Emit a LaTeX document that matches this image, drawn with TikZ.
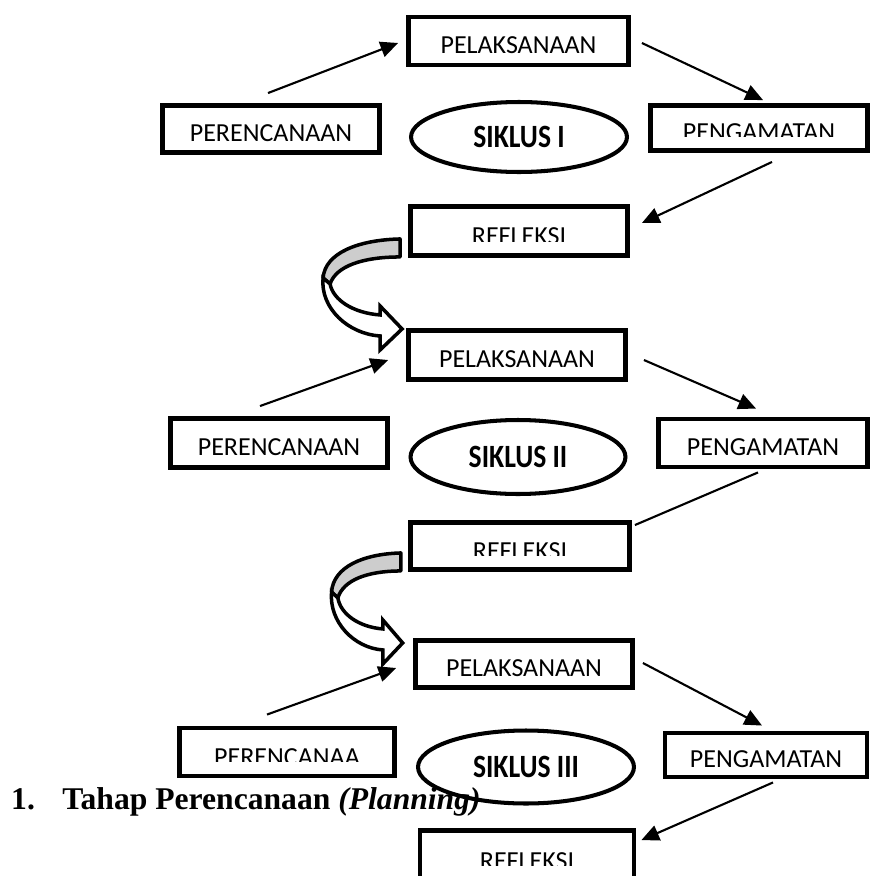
\documentclass[tikz,border=0pt]{standalone}
\usepackage{fontspec}
\setmainfont{Liberation Serif}
\newfontfamily\calibri{Carlito}
\newfontfamily\calibrinarrow[FakeStretch=0.85]{Carlito}
\usepackage{tikz}
\usetikzlibrary{shapes.geometric, arrows.meta, positioning, calc}
\definecolor{bandgrey}{RGB}{205,205,205}
\newcommand{\boxfont}{\calibri\fontsize{14.8}{17}\selectfont}
\newcommand{\cyclefont}{\calibrinarrow\bfseries\fontsize{18.5}{21}\selectfont}
\tikzset{
  box/.style={rectangle, draw, line width=2.8pt, minimum width=4.34cm,
    minimum height=0.96cm, inner sep=0pt, text height=14pt, text depth=0pt,
    font=\boxfont},
  cutbox/.style n args={2}{box, path picture={
      \clip (path picture bounding box.north west) rectangle
        ([yshift={-(#2+8.5)*0.02cm}]path picture bounding box.east);
      \node[font=\boxfont] at ([yshift={-#2*0.02cm}]path picture bounding box.center) {#1};}},
  cycle/.style={ellipse, draw, line width=2.3pt, minimum width=4.32cm,
    minimum height=1.4cm, font=\cyclefont},
  arrow/.style={-{Triangle[length=10pt,width=9pt]}, line width=1.2pt},
  line/.style={line width=1.2pt},
  bendarrow/.pic={
    \draw[line width=2pt, fill=bandgrey, line join=round]
      (-8,-19) .. controls (-50,-18) and (-83,-5) .. (-85,20)
      -- (-78,26) .. controls (-72,8) and (-45,-1) .. (-8,-1) -- cycle;
    \draw[line width=2pt, fill=white, line join=miter]
      (-85,20) .. controls (-88,50) and (-60,76) .. (-28,78)
      -- (-28,92) -- (-6,71) -- (-28,48) -- (-28,57)
      .. controls (-55,55) and (-75,42) .. (-78,26) -- cycle;
  }
}
\begin{document}
\begin{tikzpicture}[x=0.02cm, y=-0.02cm]
  \useasboundingbox (0,0) rectangle (875,876);

  % Siklus I
  \node[box, minimum width=4.4cm] (pel1) at (518.5,41) {PELAKSANAAN};
  \node[box, minimum height=0.94cm] (per1) at (271,129) {PERENCANAAN};
  \node[cycle] (sik1) at (519,137) {SIKLUS I};
  \node[cutbox={PENGAMATAN}{0}, minimum height=0.9cm] (pen1) at (759,128) {};
  \node[cutbox={REFLEKSI}{1.5}, minimum height=0.98cm] (ref1) at (519,231) {};
  \draw[arrow] ($(per1.north)+(-3,-10)$) -- ($(pel1.west)+(-8,2)$);
  \draw[arrow] ($(pel1.east)+(11,2)$) -- ($(pen1.north)+(4,-3)$);
  \draw[arrow] ($(pen1.south)+(13,9)$) -- ($(ref1.east)+(12,-8)$);
  \pic at (ref1.south west) {bendarrow};

  % Siklus II
  \node[box, minimum height=0.98cm] (pel2) at (517,355) {PELAKSANAAN};
  \node[box, minimum height=0.98cm] (per2) at (279,443) {PERENCANAAN};
  \node[cycle, minimum width=4.3cm, minimum height=1.48cm] (sik2) at (518,457) {SIKLUS II};
  \node[box, minimum width=4.18cm] (pen2) at (763,443) {PENGAMATAN};
  \node[cutbox={REFLEKSI}{1}, minimum width=4.38cm, minimum height=0.94cm] (ref2) at (520,546) {};
  \draw[arrow] ($(per2.north)+(-19,-10)$) -- ($(pel2.west)+(-18,5)$);
  \draw[arrow] ($(pel2.east)+(16,5)$) -- ($(pen2.north)+(-7,-8)$);
  \draw[line] ($(pen2.south)+(-5,3)$) -- ($(ref2.north east)+(3,5)$);
  \pic[xscale=0.9] at (ref2.south west) {bendarrow};

  % Siklus III
  \node[box, minimum height=0.94cm] (pel3) at (524,664) {PELAKSANAAN};
  \node[cutbox={PERENCANAA}{1}, minimum width=4.3cm] (per3) at (287,752) {};
  \node[box, minimum width=4.04cm, minimum height=0.88cm] (pen3) at (766,755) {PENGAMATAN};
  \node[cutbox={REFLEKSI}{2}, minimum width=4.28cm, minimum height=0.98cm] (ref3) at (527,855) {};
  \draw[arrow] ($(per3.north)+(-20,-11)$) -- ($(pel3.west)+(-17,4)$);
  \draw[arrow] ($(pel3.east)+(8,-1)$) -- ($(pen3.north)+(-4,-5)$);
  \draw[arrow] ($(pen3.south)+(7,3)$) -- ($(ref3.north east)+(5,12)$);

  \node[anchor=base west, font=\fontsize{18}{21}\selectfont\bfseries] (tahap) at (5,809)
    {1.\hspace{0.55cm}Tahap Perencanaan \textit{(Planning)}};
  \node[cycle, minimum width=4.32cm, minimum height=1.46cm] (sik3) at (526,767) {SIKLUS III};
\end{tikzpicture}
\end{document}
